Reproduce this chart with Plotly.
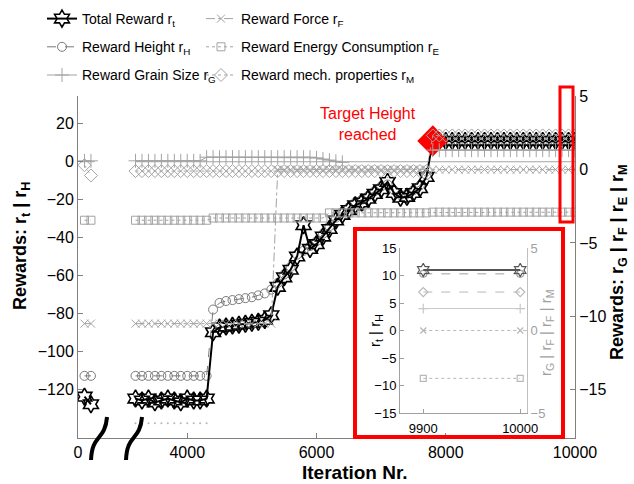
import plotly.graph_objects as go

# ---------------- data ----------------
# iterations shown before the axis break (first segment)
it_early = [100, 200]
rt_early = [-124, -128]
rh_early = [-113, -113]
rg_early = [0.6, 0.6]
rf_early = [-10.5, -10.5]
re_early = [-3.45, -3.45]
rm_early = [0.3, -0.4]

# iterations after the axis break
it_main = list(range(3200, 10001, 100))

r_t = [-125, -126, -125, -127, -126, -125, -126, -127, -125, -126, -126, -125,
       -90,
       -87.5, -87, -86.5, -86, -85.5, -85, -84.5, -83.5, -81,
       -66, -61, -57, -50, -33.5, -46, -43.5, -39.5, -35.5, -31, -28, -25.5,
       -23, -21.5, -19.5, -17, -14.5, -10.7, -16.5, -19, -18.5, -16.5, -14, -8,
       11, 11, 11, 11, 11, 11, 11, 11, 11, 11, 11, 11,
       11, 11, 11, 11, 11, 11, 11, 11, 11, 11, 11]

r_H = [-113, -113, -113, -113, -113, -113, -113, -113, -113, -113, -113, -113,
       -78,
       -74.5, -73.5, -73, -72.5, -72, -71.5, -70.5, -69.5, -67.5,
       -64, -59.5, -55.5, -49, -47, -44.5, -42, -38, -34, -29.5, -26.5, -24,
       -21.5, -20, -18, -15.5, -13, -12, -15, -17.5, -17, -15, -12.5, -7,
       10.3, 10.3, 10.3, 10.3, 10.3, 10.3, 10.3, 10.3, 10.3, 10.3, 10.3, 10.3,
       10.3, 10.3, 10.3, 10.3, 10.3, 10.3, 10.3, 10.3, 10.3, 10.3, 10.3]

r_G = [0.6, 0.6, 0.6, 0.6, 0.6, 0.6, 0.6, 0.6, 0.6, 0.6, 0.6,
       0.85, 0.85, 0.85, 0.85, 0.85, 0.85, 0.85, 0.85, 0.85, 0.85, 0.85, 0.85,
       0.85, 0.85, 0.85, 0.85, 0.85,
       0.8, 0.72, 0.65, 0.57, 0.5,
       None, None, None, None, None, None, None, None, None, None, None, None, None,
       1.33, 1.33, 1.33, 1.33, 1.33, 1.33, 1.33, 1.33, 1.33, 1.33, 1.33, 1.33,
       1.33, 1.33, 1.33, 1.33, 1.33, 1.33, 1.33, 1.33, 1.33, 1.33, 1.33]

r_F = [-10.5, -10.5, -10.5, -10.5, -10.5, -10.5, -10.5, -10.5, -10.5, -10.5, -10.5,
       -10.5, -10.5, -10.5, -10.5, -10.5, -10.5, -10.5, -10.5, -10.5, -10.5, -10.5,
       0, 0, 0, 0, 0, 0, 0, 0, 0, 0, 0, 0, 0, 0, 0, 0, 0, 0, 0, 0, 0, 0, 0, 0,
       0, 0, 0, 0, 0, 0, 0, 0, 0, 0, 0, 0, 0, 0, 0, 0, 0, 0, 0, 0, 0, 0, 0]

r_E = [-3.45, -3.45, -3.45, -3.45, -3.45, -3.45, -3.45, -3.45, -3.45, -3.45, -3.45, -3.45,
       -3.3, -3.3, -3.3, -3.3, -3.3, -3.3, -3.3, -3.3, -3.3, -3.3, -3.3, -3.3,
       -3.3, -3.3, -3.3, -3.3, -3.3, -3.3,
       -2.95, -2.95, -2.95, -2.95, -2.95, -2.95, -2.95, -2.95,
       -2.95, -2.95, -2.95, -2.95, -2.95, -2.95, -2.95, -2.95,
       -2.9, -2.9, -2.9, -2.9, -2.9, -2.9, -2.9, -2.9, -2.9, -2.9, -2.9, -2.9,
       -2.9, -2.9, -2.9, -2.9, -2.9, -2.9, -2.9, -2.9, -2.9, -2.9, -2.9]

r_M = [-0.1, -0.1, -0.1, -0.1, -0.1, -0.1, -0.1, -0.1, -0.1, -0.1, -0.1, -0.1,
       -0.1, -0.1, -0.1, -0.1, -0.1, -0.1, -0.1, -0.1, -0.1, -0.1, -0.1, -0.1,
       -0.1, -0.1, -0.1, -0.1, -0.1, -0.1, -0.1, -0.1, -0.1, -0.1, -0.1, -0.1,
       -0.1, -0.1, -0.1, -0.1, -0.1, -0.1, -0.1, -0.1, -0.1, -0.1,
       2.33, 2.33, 2.33, 2.33, 2.33, 2.33, 2.33, 2.33, 2.33, 2.33, 2.33, 2.33,
       2.33, 2.33, 2.33, 2.33, 2.33, 2.33, 2.33, 2.33, 2.33, 2.33, 2.33]

# faint unlabeled dotted series at the bottom (right axis)
it_low = [3200, 3300, 3400, 3500, 3600, 3700, 3800, 3900, 4000, 4100, 4200, 4300]
low_vals = [-17.3, -17.3, -17.3, -17.3, -17.3, -17.3, -17.3, -17.3, -17.3, -17.3, -17.3, -17.3]

# target height reached
target_it = [7800]
target_val = [11]

# tick labels
left_ticks = [-120, -100, -80, -60, -40, -20, 0, 20]
right_ticks = [-15, -10, -5, 0, 5]
x_ticks = [4000, 6000, 8000, 10000]
x_tick_text = ["4000", "6000", "8000", "10000"]
inset_x_ticks = [9900, 10000]
inset_x_text = ["9900", "10000"]
inset_left_ticks = [-15, -10, -5, 0, 5, 10, 15]
inset_right_ticks = [-5, 0, 5]

# ---------------- geometry helpers (pixels -> paper) ----------------
W, H = 634, 484
ML, MR, MT, MB = 78, 59, 96, 46
PW, PH = W - ML - MR, H - MT - MB


def px(x):
    return (x - ML) / PW


def py(y):
    return (H - MB - y) / PH


FONT = "Arial, 'Liberation Sans', sans-serif"
AX = "#808080"
G1 = "#7a7a7a"
G2 = "#a3a3a3"

fig = go.Figure()

split = px(112)

# series definitions: name, early, main, axis, style, legend, rank
series = [
    ("Reward Energy Consumption r<sub>E</sub>", re_early, r_E, "y2",
     dict(symbol="square-open", size=8, color=G2, dash="dot"), "legend2", 2),
    ("Reward Force r<sub>F</sub>", rf_early, r_F, "y2",
     dict(symbol="x-thin-open", size=8, color=G2, dash="dashdot"), "legend2", 1),
    ("Reward mech. properties r<sub>M</sub>", rm_early, r_M, "y2",
     dict(symbol="diamond-open", size=10, color=G2, dash="dot"), "legend2", 3),
    ("Reward Grain Size r<sub>G</sub>", rg_early, r_G, "y2",
     dict(symbol="cross-thin-open", size=10, color=G2, dash="solid"), "legend", 3),
    ("Reward Height r<sub>H</sub>", rh_early, r_H, "y",
     dict(symbol="circle-open", size=9, color=G1, dash="dash"), "legend", 2),
    ("Total Reward r<sub>t</sub>", rt_early, r_t, "y",
     dict(symbol="hexagram-open", size=13, color="black", dash="solid"), "legend", 1),
]

# faint dotted series
fig.add_trace(go.Scatter(x=it_low, y=low_vals, xaxis="x2", yaxis="y2", mode="markers",
                         marker=dict(symbol="circle", size=2, color="#b5b5b5"),
                         showlegend=False, hoverinfo="skip"))

for name, early, main, yax, st, leg, rank in series:
    is_total = st["color"] == "black"
    lw = 2 if is_total else 1
    mlw = 1.6 if is_total else 1
    common = dict(mode="lines+markers",
                  line=dict(color=st["color"], width=lw, dash=st["dash"]),
                  marker=dict(symbol=st["symbol"], size=st["size"], color=st["color"],
                              line=dict(color=st["color"], width=mlw)),
                  legendgroup=name, connectgaps=False)
    fig.add_trace(go.Scatter(x=it_early, y=early, xaxis="x", yaxis=yax,
                             showlegend=False, **common))
    fig.add_trace(go.Scatter(x=it_main, y=main, xaxis="x2", yaxis=yax, name=name,
                             legend=leg, legendrank=rank, showlegend=True, **common))

# target height marker
fig.add_trace(go.Scatter(x=target_it, y=target_val, xaxis="x2", yaxis="y", mode="markers",
                         marker=dict(symbol="diamond", size=24, color="#ff0000"),
                         showlegend=False))

# ---------------- inset (last two iterations) ----------------
sel = [i for i, v in enumerate(it_main) if v >= inset_x_ticks[0]]
ins_x = [it_main[i] for i in sel]
inset_styles = [
    (r_E, "y4", "square-open", 6, "#b8b8b8", "dot", 1),
    (r_F, "y4", "x-thin-open", 6, "#b8b8b8", "dot", 1),
    (r_G, "y4", "cross-thin-open", 7, "#c8c8c8", "solid", 1),
    (r_M, "y4", "diamond-open", 7, "#b8b8b8", "dash", 1),
    (r_H, "y3", "circle-open", 7, "#a0a0a0", "dash", 1),
    (r_t, "y3", "hexagram-open", 10, "#555555", "solid", 2),
]
for vals, yax, sym, size, col, dash, lw in inset_styles:
    fig.add_trace(go.Scatter(x=ins_x, y=[vals[i] for i in sel], xaxis="x3", yaxis=yax,
                             mode="lines+markers",
                             line=dict(color=col, width=lw, dash=dash),
                             marker=dict(symbol=sym, size=size, color=col,
                                         line=dict(color="#333333" if sym == "hexagram-open" else col, width=1.2)),
                             showlegend=False))

axis_common = dict(showline=True, linecolor=AX, linewidth=1, ticks="inside", ticklen=5,
                   tickcolor=AX, showgrid=False, zeroline=False, automargin=False,
                   tickfont=dict(family=FONT, size=16, color="black"))
inset_common = dict(showline=True, linecolor="#a0a0a0", linewidth=1, ticks="inside", ticklen=4,
                    tickcolor="#a0a0a0", showgrid=False, zeroline=False, automargin=False,
                    tickfont=dict(family=FONT, size=13, color="black"))

legend_common = dict(xref="container", yref="container", y=1 - 3 / H,
                     xanchor="left", yanchor="top", bgcolor="rgba(0,0,0,0)",
                     font=dict(family=FONT, size=14, color="black"), itemwidth=30,
                     tracegroupgap=7)

fig.update_layout(
    width=W, height=H,
    margin=dict(l=ML, r=MR, t=MT, b=MB, autoexpand=False),
    paper_bgcolor="white", plot_bgcolor="white",
    font=dict(family=FONT, size=16, color="black"),
    xaxis=dict(domain=[0, split], range=[0, 525], anchor="y", tickvals=[0], ticktext=["0"],
               **axis_common),
    xaxis2=dict(domain=[split, 1], range=[2836, 10000], anchor="y", tickvals=x_ticks,
                ticktext=x_tick_text, **axis_common),
    yaxis=dict(range=[-145.8, 34.7], anchor="x", side="left", tickvals=left_ticks,
               **axis_common),
    yaxis2=dict(range=[-18.3, 5.02], overlaying="y", anchor="x2", side="right",
                tickvals=right_ticks, **axis_common),
    xaxis3=dict(domain=[px(400), px(527)], range=[9876, 10007], anchor="y3",
                tickvals=inset_x_ticks, ticktext=inset_x_text, ticklabelstandoff=3,
                **inset_common),
    yaxis3=dict(domain=[py(413), py(248)], range=[-15, 15], anchor="x3", side="left",
                tickvals=inset_left_ticks, **inset_common),
    yaxis4=dict(range=[-5, 5], overlaying="y3", anchor="x3", side="right",
                tickvals=inset_right_ticks,
                showline=True, linecolor="#c0c0c0", linewidth=1, ticks="inside", ticklen=4,
                tickcolor="#c0c0c0", showgrid=False, zeroline=False, automargin=False,
                tickfont=dict(family=FONT, size=13, color="#a0a0a0")),
    legend=dict(x=42 / W, **legend_common),
    legend2=dict(x=201 / W, **legend_common),
)

# axis titles and text annotations
titles = [
    ("<b>Rewards: r<sub>t</sub> | r<sub>H</sub></b>", 21, 246, -90, 18, "black"),
    ("<b>Rewards: r<sub>G</sub> | r<sub>F</sub> | r<sub>E</sub> | r<sub>M</sub></b>", 618, 262, -90, 18, "black"),
    ("<b>Iteration Nr.</b>", 355, 472, 0, 19, "black"),
    ("r<sub>t</sub> | r<sub>H</sub>", 375, 331, -90, 15, "black"),
    ("r<sub>G</sub> | r<sub>F</sub> | r<sub>F</sub> | r<sub>M</sub>", 546, 333, -90, 15, "#a0a0a0"),
    ("Target Height<br>reached", 368, 124, 0, 16, "#ff0000"),
]
for text, tx, ty, ang, size, col in titles:
    fig.add_annotation(xref="paper", yref="paper", x=px(tx), y=py(ty), text=text,
                       showarrow=False, textangle=ang, xanchor="center", yanchor="middle",
                       font=dict(family=FONT, size=size, color=col))

# grey zero reference line (left axis), broken at the axis gap
fig.add_shape(type="line", xref="x", yref="y", x0=30, x1=260, y0=0, y1=0,
              line=dict(color=G2, width=1), layer="below")
fig.add_shape(type="line", xref="x2", yref="y", x0=3200, x1=10000, y0=0, y1=0,
              line=dict(color=G2, width=1), layer="below")

# red highlight boxes
fig.add_shape(type="rect", xref="paper", yref="paper", x0=px(355), x1=px(563),
              y0=py(437), y1=py(229), line=dict(color="#ff0000", width=4), layer="above")
fig.add_shape(type="rect", xref="paper", yref="paper", x0=px(560), x1=px(573),
              y0=py(222), y1=py(87), line=dict(color="#ff0000", width=3), layer="above")

# axis-break marks
for dx in (0, 35):
    path = "M {:.4f},{:.4f} C {:.4f},{:.4f} {:.4f},{:.4f} {:.4f},{:.4f}".format(
        px(107 + dx), py(417), px(105 + dx), py(441), px(92 + dx), py(434), px(91 + dx), py(460))
    fig.add_shape(type="path", xref="paper", yref="paper", path=path,
                  line=dict(color="black", width=4), layer="above")

fig.write_html("out.html")
